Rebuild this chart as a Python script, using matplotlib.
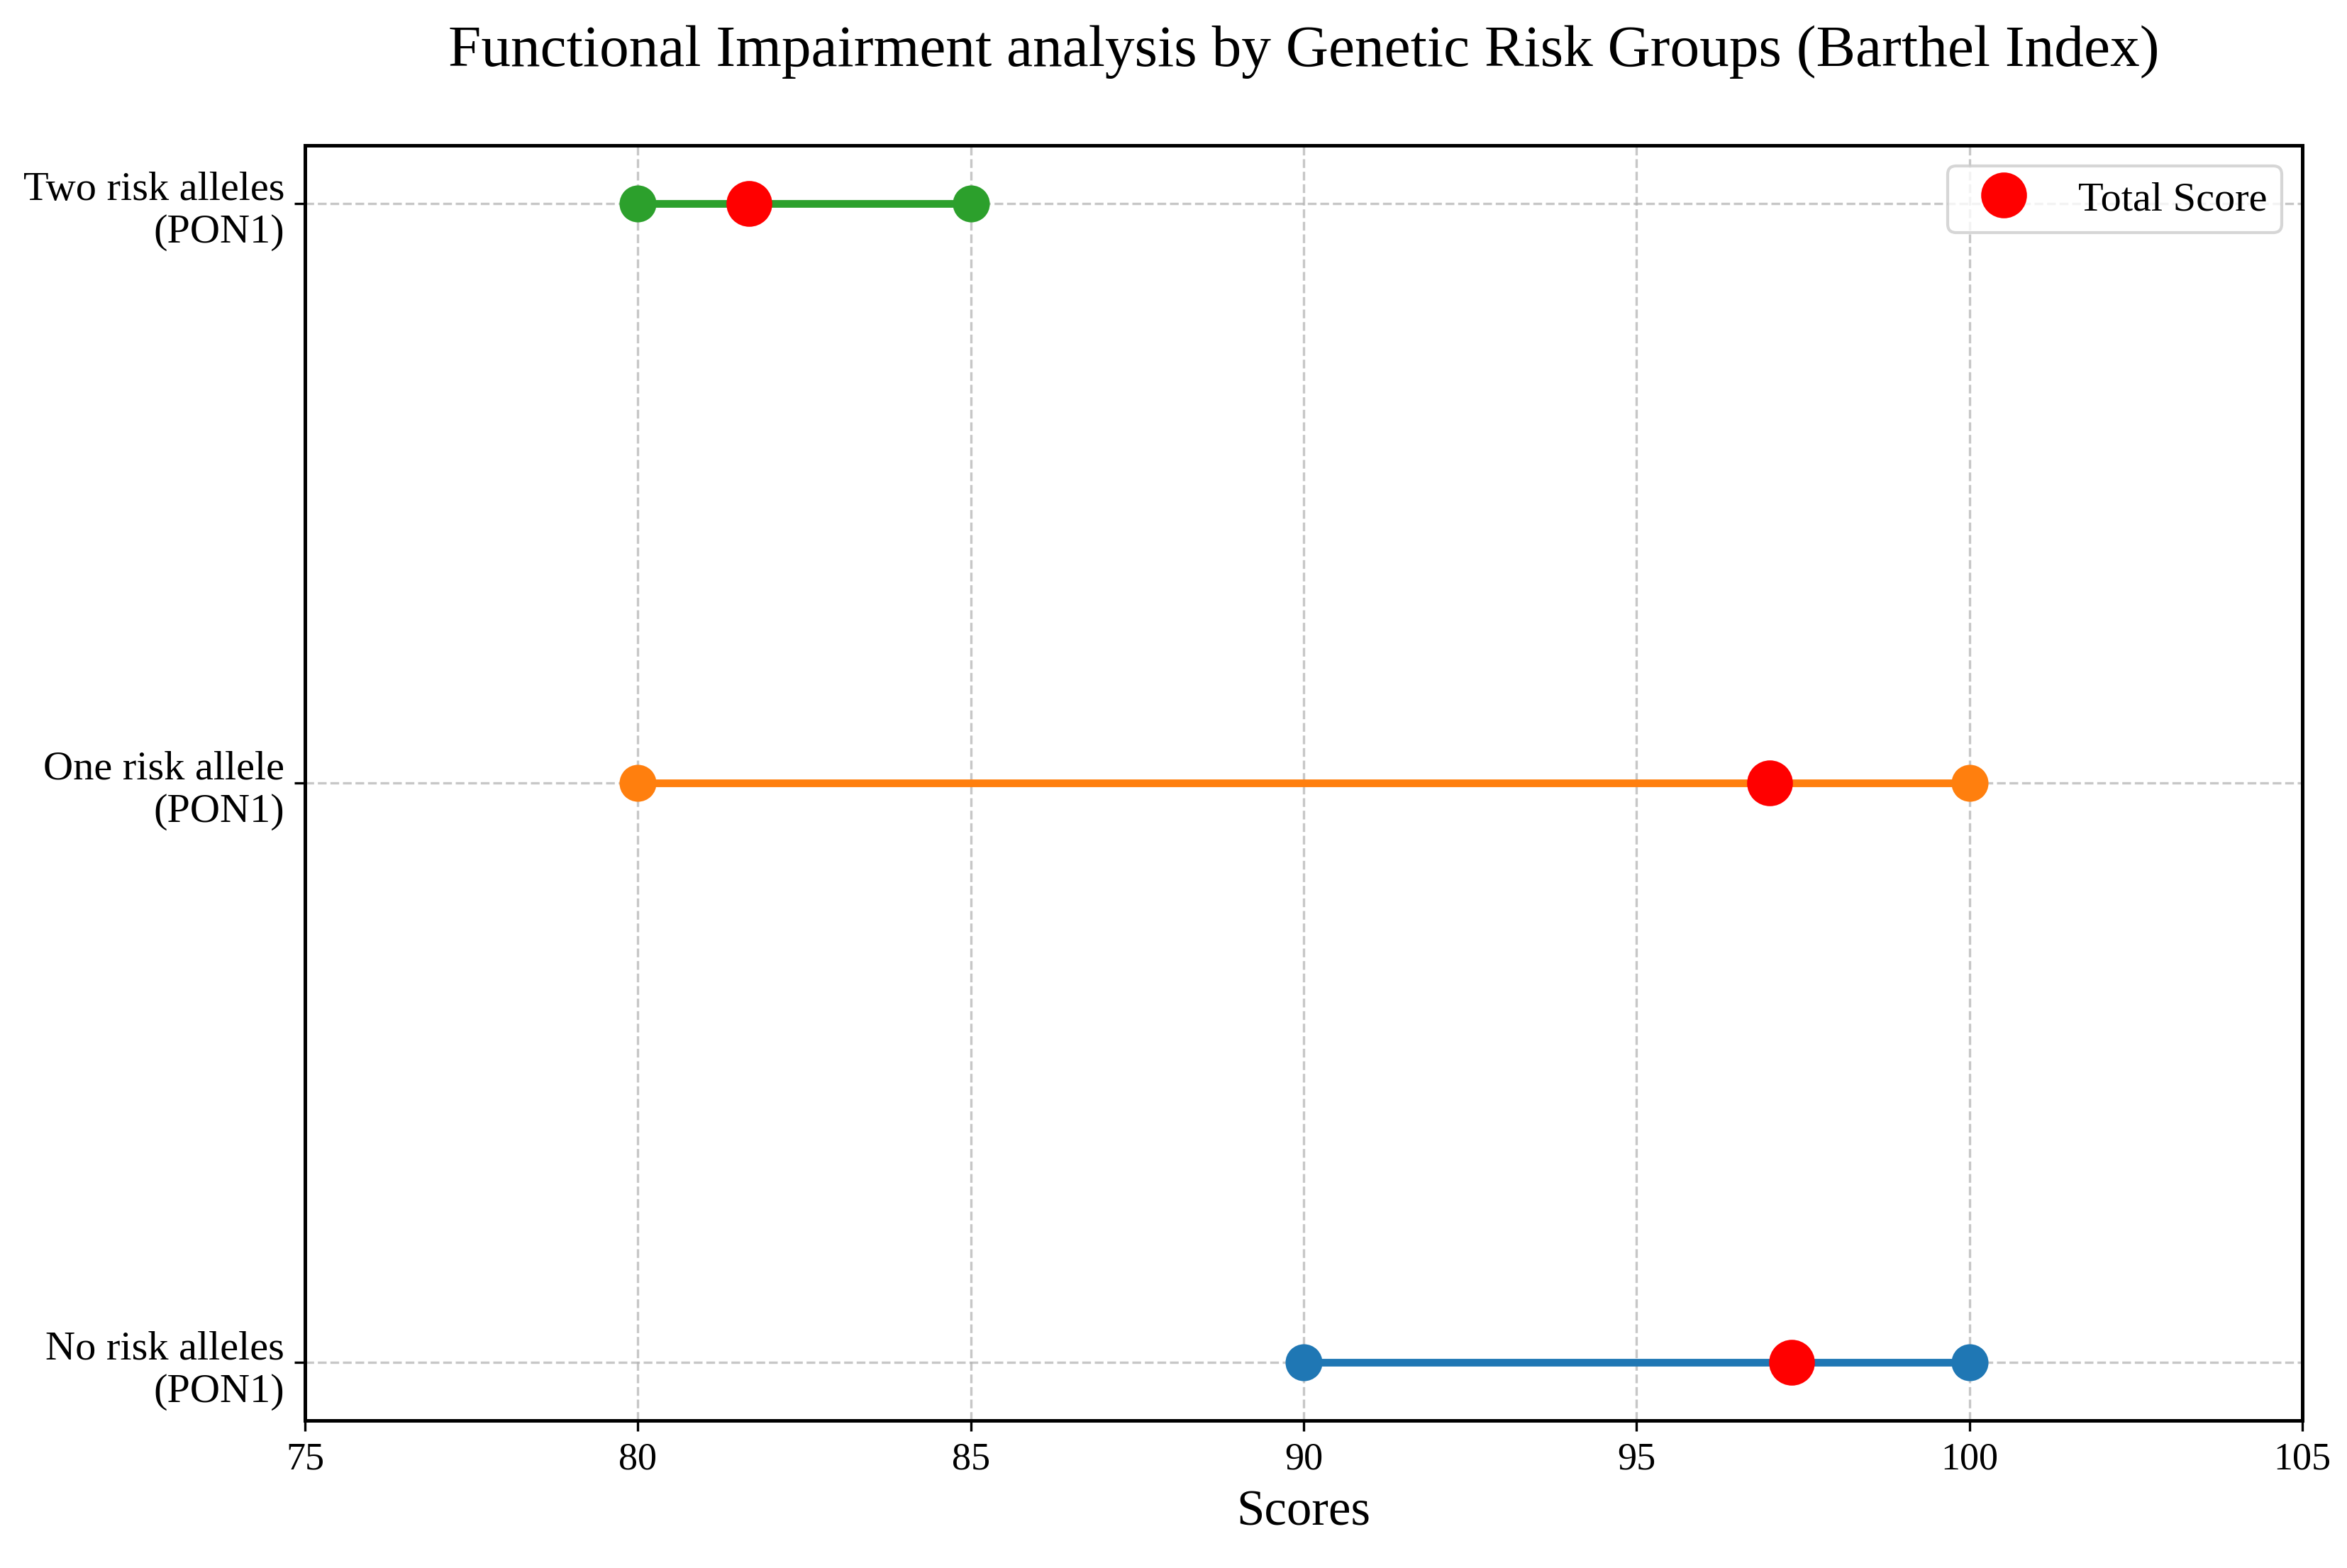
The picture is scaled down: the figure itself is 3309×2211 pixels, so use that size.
import numpy as np
import matplotlib.pyplot as plt

# group labels, bottom to top
groups = ["No risk alleles\n(PON1)", "One risk allele\n(PON1)", "Two risk alleles\n(PON1)"]
min_scores = [90, 80, 80]
max_scores = [100, 100, 85]
total_scores = [97.33, 97.0, 81.67]
colors = ["#1f77b4", "#ff7f0e", "#2ca02c"]

plt.rcParams['font.family'] = ['Liberation Serif', 'DejaVu Serif']

fig, ax = plt.subplots(figsize=(11.03, 7.373), dpi=300)
fig.subplots_adjust(left=0.130, right=0.981, top=0.907, bottom=0.094)

for i, g in enumerate(groups):
    ax.plot([min_scores[i], max_scores[i]], [i, i], color=colors[i], lw=2.6,
            marker='o', markersize=11.5, zorder=2)
    ax.plot(total_scores[i], i, 'o', color='red', markersize=14.5, zorder=3,
            label="Total Score" if i == 0 else None)

ax.set_yticks(range(len(groups)))
ax.set_yticklabels(groups, fontsize=14)
ax.set_xlim(75, 105)
ax.set_xticks(np.arange(75, 106, 5))
ax.tick_params(axis='x', labelsize=13)
ax.set_xlabel("Scores", fontsize=17)
ax.set_title("Functional Impairment analysis by Genetic Risk Groups (Barthel Index)",
             fontsize=20, pad=27)
ax.grid(True, linestyle='--', alpha=0.7)
for s in ax.spines.values():
    s.set_linewidth(1.2)
ax.legend(loc='upper right', fontsize=14, borderpad=0.35)

plt.savefig("out.png", dpi=300)
